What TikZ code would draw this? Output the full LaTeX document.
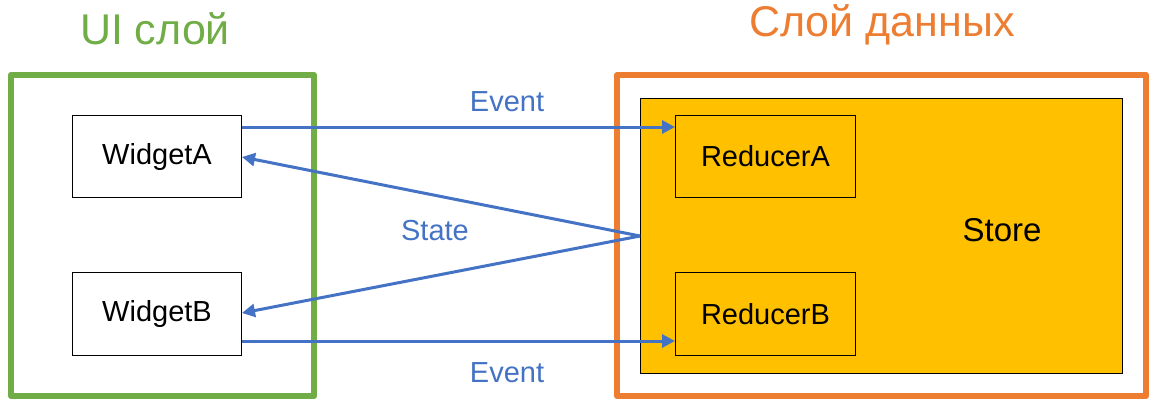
\documentclass[tikz,border=0pt]{standalone}
\usepackage{fontspec}
\setmainfont{Liberation Sans}
\usetikzlibrary{arrows.meta}
\definecolor{uigreen}{HTML}{70AD47}
\definecolor{dataorange}{HTML}{ED7D31}
\definecolor{storegold}{HTML}{FFC000}
\definecolor{flowblue}{HTML}{4472C4}
\tikzset{
  layerbox/.style={line width=6pt, line join=round},
  compbox/.style={draw=black, line width=1pt, inner sep=0pt, font=\fontsize{29}{33}\selectfont},
  flow/.style={draw=flowblue, line width=3pt, -{Triangle[length=13pt,width=13pt]}},
  flowlabel/.style={text=flowblue, font=\fontsize{29}{33}\selectfont},
  layertitle/.style={font=\fontsize{43}{48}\selectfont}
}
\begin{document}
\begin{tikzpicture}[x=1pt,y=-1pt]
\useasboundingbox (0,0) rectangle (1149,399);
% layers
\draw[layerbox, draw=uigreen] (11,75) rectangle (314,396);
\draw[layerbox, draw=dataorange] (617,75) rectangle (1146,396);
\node[layertitle, text=uigreen] (uititle) at (155,29) {UI слой};
\node[layertitle, text=dataorange] (datatitle) at (882,25) {Слой данных};
% store
\node[compbox, fill=storegold, minimum width=482pt, minimum height=275pt, anchor=north west] (store) at (640,98) {};
\node[font=\fontsize{33}{37}\selectfont] (storelabel) at (1002,230) {Store};
\coordinate (storeout) at (640,236);
% components
\node[compbox, fill=white, minimum width=169pt, minimum height=82pt, anchor=north west] (wa) at (72,115) {WidgetA};
\node[compbox, fill=white, minimum width=169pt, minimum height=83pt, anchor=north west] (wb) at (72,272) {WidgetB};
\node[compbox, fill=storegold, minimum width=180pt, minimum height=82pt, anchor=north west] (ra) at (675,115) {ReducerA};
\node[compbox, fill=storegold, minimum width=180pt, minimum height=83pt, anchor=north west] (rb) at (675,272) {ReducerB};
% flows
\draw[flow] (wa.east |- 0,127) -- (ra.west |- 0,127);
\draw[flow] (wb.east |- 0,341) -- (rb.west |- 0,341);
\draw[flow] (storeout) -- (wa.east |- 0,157);
\draw[flow] (storeout) -- (wb.east |- 0,313);
\node[flowlabel] (ev1) at (507,102) {Event};
\node[flowlabel] (st) at (435,231) {State};
\node[flowlabel] (ev2) at (507,373) {Event};
\end{tikzpicture}
\end{document}
